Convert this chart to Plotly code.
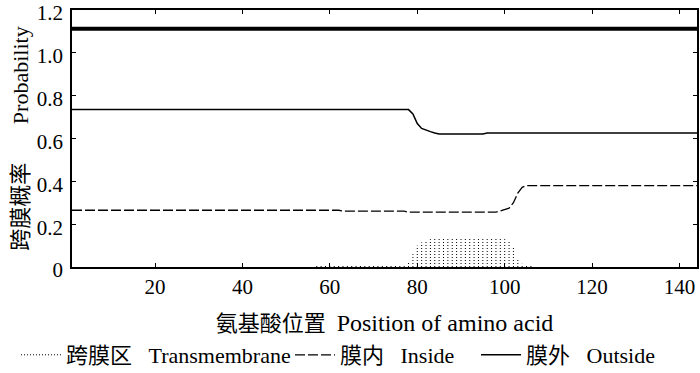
import plotly.graph_objects as go

# ---- data ----
# Outside probability (breakpoints: residue position, probability)
outside_pos = [1, 78, 79, 80, 81, 82, 83, 84, 85, 95, 96, 144]
outside_val = [0.735, 0.735, 0.715, 0.67, 0.647, 0.638, 0.632, 0.626, 0.621, 0.621, 0.626, 0.626]

# Inside probability (breakpoints)
inside_pos = [1, 62, 63, 77, 78, 98, 99, 100, 101, 102, 103, 104, 105, 144]
inside_val = [0.265, 0.265, 0.261, 0.261, 0.256, 0.256, 0.262, 0.268, 0.275, 0.30, 0.345, 0.372, 0.38, 0.38]

# Transmembrane probability, one value per residue (residues 57..106; others 0)
tm_pos = list(range(57, 107))
tm_val = [0.008] * 21 + [0.02, 0.06, 0.10, 0.115, 0.125, 0.13] + [0.133] * 16 + \
         [0.13, 0.118, 0.095, 0.04, 0.015, 0.006, 0.006]

# Predicted topology bar (outside over whole sequence)
topo_pos = [1, 144]
topo_val = [1.112, 1.112]

x_ticks = [20, 40, 60, 80, 100, 120, 140]
y_ticks = [0, 0.2, 0.4, 0.6, 0.8, 1.0, 1.2]
y_ticktext = ["0", "0.2", "0.4", "0.6", "0.8", "1.0", "1.2"]

GAP = "\u00a0" * 3
names = ["跨膜区" + GAP + "Transmembrane", "膜内" + GAP + "Inside", "膜外" + GAP + "Outside"]
x_title = "\u00a0\u00a0\u00a0氨基酸位置\u00a0\u00a0<span style='font-size:24px'>Position of amino acid</span>"
y_title = "跨膜概率" + "\u00a0" * 7 + "Probability"

FONT = "Liberation Serif, Noto Sans CJK SC, serif"

# vertical dotted columns for transmembrane
tm_x, tm_y = [], []
for p, v in zip(tm_pos, tm_val):
    tm_x += [p, p, None]
    tm_y += [0, v, None]

fig = go.Figure()
fig.add_trace(go.Scatter(x=tm_x, y=tm_y, mode="lines", name=names[0], legendwidth=219,
                         line=dict(color="black", width=1, dash="1px,2px")))
fig.add_trace(go.Scatter(x=inside_pos, y=inside_val, mode="lines", name=names[1], legendwidth=131,
                         line=dict(color="black", width=1.3, dash="10px,3px")))
fig.add_trace(go.Scatter(x=outside_pos, y=outside_val, mode="lines", name=names[2],
                         line=dict(color="black", width=1.5)))
fig.add_trace(go.Scatter(x=topo_pos, y=topo_val, mode="lines", showlegend=False,
                         line=dict(color="black", width=4)))

fig.update_layout(
    width=700, height=373,
    margin=dict(l=72, r=3, t=10, b=106, autoexpand=False),
    paper_bgcolor="white", plot_bgcolor="white",
    font=dict(family=FONT, size=21, color="black"),
    showlegend=True,
    legend=dict(orientation="h", xref="paper", yref="paper",
                x=-0.0896, y=-0.3424, xanchor="left", yanchor="middle",
                font=dict(family=FONT, size=22, color="black"),
                itemwidth=40, bgcolor="rgba(0,0,0,0)"),
    xaxis=dict(range=[1, 144], tickvals=x_ticks, ticks="inside", ticklen=4,
               showline=True, mirror="ticks", linecolor="black", linewidth=1.5,
               tickcolor="black", showgrid=False, zeroline=False,
               tickfont=dict(size=21), ticklabeloverflow="allow",
               title=dict(text=x_title, font=dict(size=22), standoff=18)),
    yaxis=dict(range=[0, 1.2001], tickvals=y_ticks, ticktext=y_ticktext,
               ticks="inside", ticklen=4, ticklabelstandoff=3, ticklabelshift=3,
               showline=True, mirror="ticks", linecolor="black", linewidth=1.5,
               tickcolor="black", showgrid=False, zeroline=False,
               tickfont=dict(size=21), ticklabeloverflow="allow",
               title=dict(text=y_title, font=dict(size=22), standoff=2)),
)

fig.write_html("out.html", config={"displayModeBar": False},
               post_script="document.body.style.margin='0';")
